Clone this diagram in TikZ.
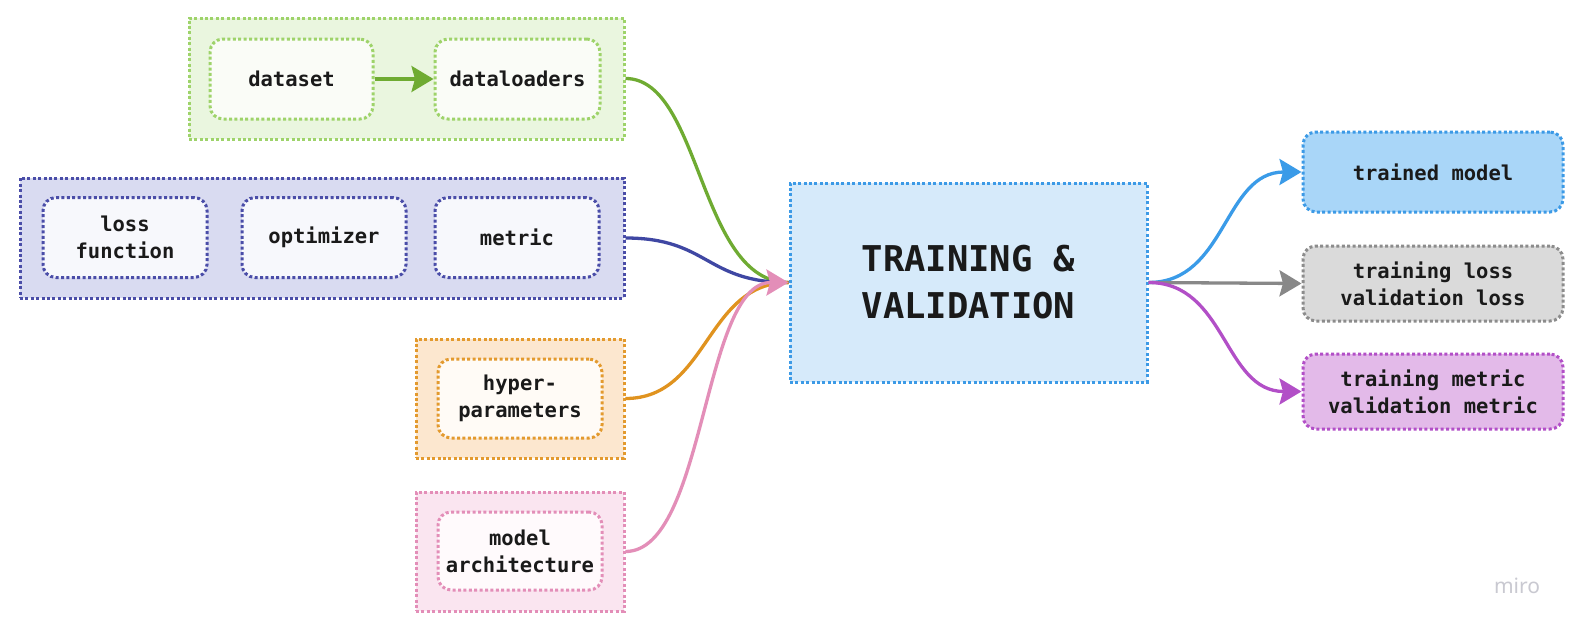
\documentclass[tikz,border=0pt]{standalone}
\usepackage{fontspec}
\setmonofont{DejaVu Sans Mono}
\newfontfamily\mirofont{Noto Sans}
\usetikzlibrary{arrows.meta,calc}
\definecolor{txt}{HTML}{1A1A1A}
\definecolor{gfill}{HTML}{EAF6DF}\definecolor{gbord}{HTML}{9ED36A}\definecolor{gin}{HTML}{FAFCF7}\definecolor{gline}{HTML}{6FAB32}
\definecolor{bfill}{HTML}{D9DBF1}\definecolor{bbord}{HTML}{4A4DA8}\definecolor{bin}{HTML}{F7F8FC}\definecolor{bline}{HTML}{3F47A3}
\definecolor{ofill}{HTML}{FCE7CF}\definecolor{obord}{HTML}{E39A2E}\definecolor{oin}{HTML}{FFFBF6}\definecolor{oline}{HTML}{E0931F}
\definecolor{pfill}{HTML}{FAE5F0}\definecolor{pbord}{HTML}{E38EB8}\definecolor{pin}{HTML}{FFFAFC}\definecolor{pline}{HTML}{E38EB8}
\definecolor{cfill}{HTML}{D6EAFA}\definecolor{cbord}{HTML}{3C9AE6}
\definecolor{tmfill}{HTML}{A9D6F8}\definecolor{tmline}{HTML}{3A9BE8}
\definecolor{tlfill}{HTML}{DADADA}\definecolor{tlbord}{HTML}{8C8C8C}\definecolor{tlline}{HTML}{888888}
\definecolor{mfill}{HTML}{E3BAE9}\definecolor{mbord}{HTML}{B24FC7}
\definecolor{miro}{HTML}{C9C9D1}
\tikzset{
  dotb/.style={draw=#1, line width=3pt, dash pattern=on 3pt off 2.4pt},
  grp/.style n args={2}{dotb=#2, fill=#1, rectangle, inner sep=0pt},
  inbox/.style n args={2}{dotb=#2, fill=#1, rectangle, rounded corners=13pt, inner sep=0pt,
     minimum width=164pt, minimum height=80pt, align=center, text=txt,
     font=\ttfamily\bfseries\fontsize{20.5}{27}\selectfont},
  outbox/.style n args={2}{dotb=#2, fill=#1, rectangle, rounded corners=13pt, inner sep=0pt,
     minimum width=260pt, align=center, text=txt,
     font=\ttfamily\bfseries\fontsize{20.5}{27}\selectfont},
  conn/.style={draw=#1, line width=3.3pt},
  arr/.style={conn=#1, -{Stealth[length=22pt,width=26pt,inset=3.5pt]}},
}
\begin{document}
\begin{tikzpicture}[x=1pt,y=-1pt]
\useasboundingbox[fill=white] (0,0) rectangle (1579,632);
% groups
\node[grp={gfill}{gbord}, minimum width=435pt, minimum height=121pt] (gg) at (406.5,78.5) {};
\node[grp={bfill}{bbord}, minimum width=604pt, minimum height=120pt] (bg) at (322,238) {};
\node[grp={ofill}{obord}, minimum width=208pt, minimum height=119pt] (og) at (520,398.5) {};
\node[grp={pfill}{pbord}, minimum width=208pt, minimum height=119pt] (pg) at (520,551.5) {};
% inner boxes
\node[inbox={gin}{gbord}, minimum width=163pt] (ds) at (291.5,79) {dataset};
\node[inbox={gin}{gbord}, minimum width=165pt] (dl) at (517.5,79) {dataloaders};
\node[inbox={bin}{bbord}] (lf) at (125,237.5) {loss\\function};
\node[inbox={bin}{bbord}] (op) at (324,237.5) {optimizer};
\node[inbox={bin}{bbord}] (me) at (517,237.5) {metric};
\node[inbox={oin}{obord}, minimum height=79pt] (hp) at (520,398.5) {hyper-\\parameters};
\node[inbox={pin}{pbord}, minimum height=78pt] (ma) at (520,551) {model\\architecture};
% center
\node[dotb=cbord, fill=cfill, rectangle, inner sep=0pt, minimum width=357pt, minimum height=199pt,
  align=center, text=txt, font=\ttfamily\bfseries\fontsize{35.5}{47}\selectfont] (tv) at (968.5,282.5) {TRAINING \&\\VALIDATION};
% outputs
\node[outbox={tmfill}{cbord}, minimum height=80pt] (tm) at (1433,172) {trained model};
\node[outbox={tlfill}{tlbord}, minimum height=75pt] (tl) at (1433,283.5) {training loss\\validation loss};
\node[outbox={mfill}{mbord}, minimum height=75pt] (tme) at (1433,391.5) {training metric\\validation metric};
% connectors
\draw[arr=gline] (ds.east) -- (dl.west);
\draw[conn=gline] (gg.east) .. controls ($(gg.east)+(76,0)$) and ($(tv.west)+(-90,0)$) .. (tv.west);
\draw[conn=bline] (bg.east) .. controls ($(bg.east)+(83,0)$) and ($(tv.west)+(-83,0)$) .. (tv.west);
\draw[conn=oline] (og.east) .. controls ($(og.east)+(83,0)$) and ($(tv.west)+(-83,0)$) .. (tv.west);
\draw[arr=pline] (pg.east) .. controls ($(pg.east)+(80,0)$) and ($(tv.west)+(-86,0)$) .. (tv.west);
\draw[arr=tmline] (tv.east) .. controls ($(tv.east)+(78,0)$) and ($(tm.west)+(-78,0)$) .. (tm.west);
\draw[arr=tlline] (tv.east) -- (tl.west);
\draw[arr=mbord] (tv.east) .. controls ($(tv.east)+(78,0)$) and ($(tme.west)+(-78,0)$) .. (tme.west);
% watermark
\node[text=miro, font=\mirofont\fontsize{21}{24}\selectfont, inner sep=0pt] (wm) at (1517,586) {miro};
\end{tikzpicture}
\end{document}
